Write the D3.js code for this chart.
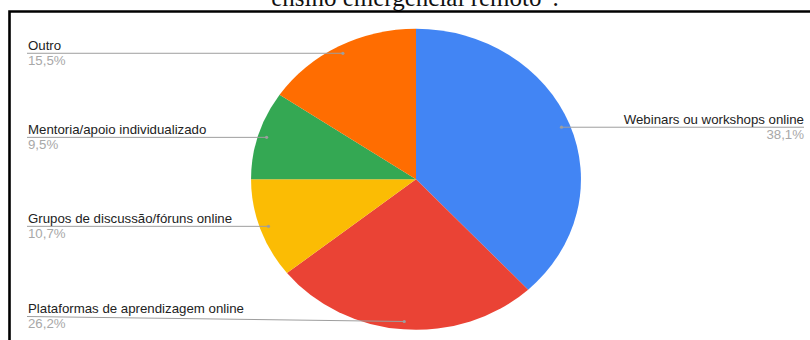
<!DOCTYPE html>
<html>
<head>
<meta charset="utf-8">
<script src="https://cdn.jsdelivr.net/npm/d3@7"></script>
<style>
  html, body { margin: 0; padding: 0; background: #fff; }
  svg { display: block; }
</style>
</head>
<body>
<svg id="chart" width="810" height="340"></svg>
<script>
// Slices, clockwise from 12 o'clock
const categories = [
  "Webinars ou workshops online",
  "Plataformas de aprendizagem online",
  "Grupos de discussão/fóruns online",
  "Mentoria/apoio individualizado",
  "Outro"
];
const values = [38.1, 26.2, 10.7, 9.5, 15.5];
const valueLabels = ["38,1%", "26,2%", "10,7%", "9,5%", "15,5%"];
const colors = ["#4285f4", "#ea4335", "#fbbc04", "#34a853", "#ff6d01"];
const titleText = "ensino emergencial remoto”.";

const W = 810, H = 340;
const cx = 416, cy = 179.3;      // pie centre
const R = 150.5;                 // pie radius (vertical)
const sx = 1.096;                // horizontal stretch of the whole figure
const dotR = 142.6;              // radius where leader lines touch the slices
const leftX = 28, rightX = 804;  // label anchors
const labelMinY = 40, labelMaxY = 316.5;
const fontSize = 12.1;

const svg = d3.select("#chart");

// title line (only its lower part fits in the frame)
svg.append("text")
  .attr("x", cx - 1).attr("y", 6)
  .attr("text-anchor", "middle")
  .attr("font-family", "'Liberation Serif', 'Times New Roman', serif")
  .attr("font-size", 25)
  .attr("fill", "#111")
  .text(titleText);

// frame
svg.append("path")
  .attr("d", `M9.5,${H} V11.5 H${W}`)
  .attr("fill", "none")
  .attr("stroke", "#000")
  .attr("stroke-width", 2.6);

const data = categories.map((c, i) => ({ name: c, value: values[i], label: valueLabels[i], color: colors[i] }));

const pie = d3.pie().sort(null).value(d => d.value);
const arcs = pie(data);
const arc = d3.arc().innerRadius(0).outerRadius(R);

const g = svg.append("g")
  .attr("transform", `translate(${cx},${cy}) scale(${sx},1)`);

g.selectAll("path.slice")
  .data(arcs)
  .join("path")
  .attr("class", "slice")
  .attr("d", arc)
  .attr("fill", d => d.data.color);

// labels with leader lines
const labels = svg.append("g");
arcs.forEach(a => {
  const mid = (a.startAngle + a.endAngle) / 2;
  const dx = cx + sx * dotR * Math.sin(mid);
  const dy = cy - dotR * Math.cos(mid);
  const right = Math.sin(mid) > 0;
  const ly = Math.max(labelMinY, Math.min(labelMaxY, dy));
  const x0 = right ? rightX : leftX - 1;

  labels.append("path")
    .attr("d", `M${x0},${ly} L${dx},${dy}`)
    .attr("fill", "none")
    .attr("stroke", "#9e9e9e")
    .attr("stroke-width", 1);

  labels.append("circle")
    .attr("cx", dx).attr("cy", dy).attr("r", 1.6)
    .attr("fill", "#9e9e9e");

  const tx = right ? rightX : leftX;
  const anchor = right ? "end" : "start";

  labels.append("text")
    .attr("transform", `translate(${tx},${ly - 3.2}) scale(${sx},1)`)
    .attr("text-anchor", anchor)
    .attr("font-family", "'Liberation Sans', Arial, sans-serif")
    .attr("font-size", fontSize)
    .attr("fill", "#222")
    .text(a.data.name);

  labels.append("text")
    .attr("transform", `translate(${tx},${ly + 11.4}) scale(${sx},1)`)
    .attr("text-anchor", anchor)
    .attr("font-family", "'Liberation Sans', Arial, sans-serif")
    .attr("font-size", fontSize)
    .attr("fill", "#a8a8a8")
    .text(a.data.label);
});
</script>
</body>
</html>
